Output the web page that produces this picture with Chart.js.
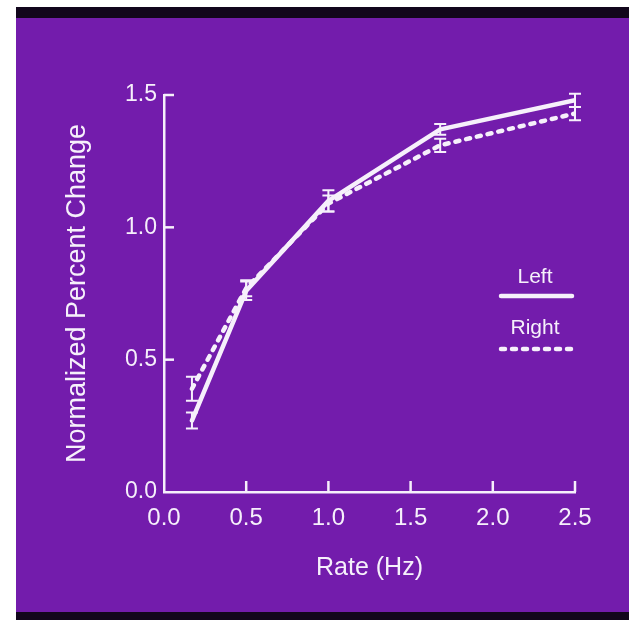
<!DOCTYPE html>
<html>
<head>
<meta charset="utf-8">
<script src="https://cdn.jsdelivr.net/npm/chart.js@4.4.1/dist/chart.umd.min.js"></script>
<style>
  html, body { margin:0; padding:0; background:#fff; }
  #band  { position:absolute; left:16px; top:7px; width:613px; height:613px; background:#12061c; }
  #panel { position:absolute; left:16px; top:18px; width:613px; height:594px; background:#731cac; }
  #wrap  { position:absolute; left:0; top:0; width:629px; height:620px; }
</style>
</head>
<body>
<div id="band"></div>
<div id="panel"></div>
<div id="wrap"><canvas id="chart" width="629" height="620"></canvas></div>
<script>
// ── data ─────────────────────────────────────────────────────────────────
const RATES     = [0.17, 0.5, 1.0, 1.68, 2.5];
const LEFT      = [0.27, 0.76, 1.10, 1.37, 1.48];
const LEFT_ERR  = [0.03, 0.035, 0.04, 0.02, 0.025];
const RIGHT     = [0.39, 0.77, 1.09, 1.31, 1.43];
const RIGHT_ERR = [0.045, 0.03, 0.03, 0.025, 0.025];
const X_TICKS   = [0, 0.5, 1.0, 1.5, 2.0, 2.5];
const Y_TICKS   = [0, 0.5, 1.0, 1.5];

const INK  = '#f6f0fb';
const FONT = '"Liberation Sans", Arial, Helvetica, sans-serif';

const pts = (ys) => RATES.map((x, i) => ({ x, y: ys[i] }));

// ticks pointing into the plot + error bars
const axisTicks = {
  id: 'axisTicks',
  afterDatasetsDraw(chart) {
    const { ctx } = chart, xs = chart.scales.x, ys = chart.scales.y;
    ctx.save();
    ctx.strokeStyle = INK;
    ctx.lineCap = 'butt';
    chart.data.datasets.forEach((ds) => {
      ctx.lineWidth = 2;
      ds.data.forEach((p, j) => {
        const e = ds.errors[j];
        const x = xs.getPixelForValue(p.x);
        const y1 = ys.getPixelForValue(p.y + e), y2 = ys.getPixelForValue(p.y - e);
        ctx.beginPath();
        ctx.moveTo(x, y1); ctx.lineTo(x, y2);
        ctx.moveTo(x - 6, y1); ctx.lineTo(x + 6, y1);
        ctx.moveTo(x - 6, y2); ctx.lineTo(x + 6, y2);
        ctx.stroke();
      });
    });
    ctx.lineWidth = 2.5;
    X_TICKS.slice(1).forEach(v => {
      const x = xs.getPixelForValue(v);
      ctx.beginPath(); ctx.moveTo(x, xs.top); ctx.lineTo(x, xs.top - 11); ctx.stroke();
    });
    Y_TICKS.slice(1).forEach(v => {
      const y = ys.getPixelForValue(v);
      ctx.beginPath(); ctx.moveTo(ys.right, y); ctx.lineTo(ys.right + 10, y); ctx.stroke();
    });
    ctx.restore();
  },
};

// legend: label above a sample of the line
const slideLegend = {
  id: 'slideLegend',
  afterDraw(chart) {
    const { ctx } = chart;
    const spots = [{ ty: 277, ly: 296 }, { ty: 328, ly: 349 }];
    ctx.save();
    chart.data.datasets.forEach((ds, i) => {
      const s = spots[i];
      ctx.fillStyle = INK;
      ctx.font = '21px ' + FONT;
      ctx.textAlign = 'center';
      ctx.textBaseline = 'middle';
      ctx.fillText(ds.label, 535, s.ty);
      ctx.strokeStyle = INK;
      ctx.lineWidth = ds.borderWidth;
      ctx.lineCap = ds.borderCapStyle || 'butt';
      ctx.setLineDash(ds.borderDash || []);
      ctx.beginPath(); ctx.moveTo(501, s.ly); ctx.lineTo(572, s.ly); ctx.stroke();
    });
    ctx.restore();
  },
};

new Chart(document.getElementById('chart'), {
  type: 'line',
  data: {
    datasets: [
      { label: 'Left',  data: pts(LEFT),  errors: LEFT_ERR,
        borderColor: INK, borderWidth: 4.5, borderJoinStyle: 'round', borderCapStyle: 'round',
        pointRadius: 0, tension: 0 },
      { label: 'Right', data: pts(RIGHT), errors: RIGHT_ERR,
        borderColor: INK, borderWidth: 4.5, borderDash: [4, 7], borderCapStyle: 'round',
        pointRadius: 0, tension: 0 },
    ],
  },
  options: {
    responsive: false,
    animation: false,
    layout: { padding: { left: 0, top: 95, right: 54, bottom: 0 } },
    plugins: { legend: { display: false }, tooltip: { enabled: false } },
    scales: {
      x: {
        type: 'linear', min: 0, max: 2.5,
        afterBuildTicks: s => { s.ticks = X_TICKS.map(v => ({ value: v })); },
        afterFit: s => { s.height = 128; },
        grid: { display: false, drawTicks: false },
        border: { display: true, color: INK, width: 2.5 },
        ticks: { color: INK, padding: 12, maxRotation: 0, font: { family: FONT, size: 24 },
                 callback: v => v.toFixed(1) },
        title: { display: true, text: 'Rate (Hz)', color: INK,
                 font: { family: FONT, size: 25 }, padding: { top: 0, bottom: 37 } },
      },
      y: {
        min: 0, max: 1.5,
        afterBuildTicks: s => { s.ticks = Y_TICKS.map(v => ({ value: v })); },
        afterFit: s => { s.width = 164; },
        grid: { display: false, drawTicks: false },
        border: { display: true, color: INK, width: 2.5 },
        ticks: { color: INK, padding: 7, font: { family: FONT, size: 23 },
                 callback: v => v.toFixed(1) },
        title: { display: true, text: 'Normalized Percent Change', color: INK,
                 font: { family: FONT, size: 27 }, padding: { top: 61, bottom: 0 } },
      },
    },
  },
  plugins: [axisTicks, slideLegend],
});
</script>
</body>
</html>
